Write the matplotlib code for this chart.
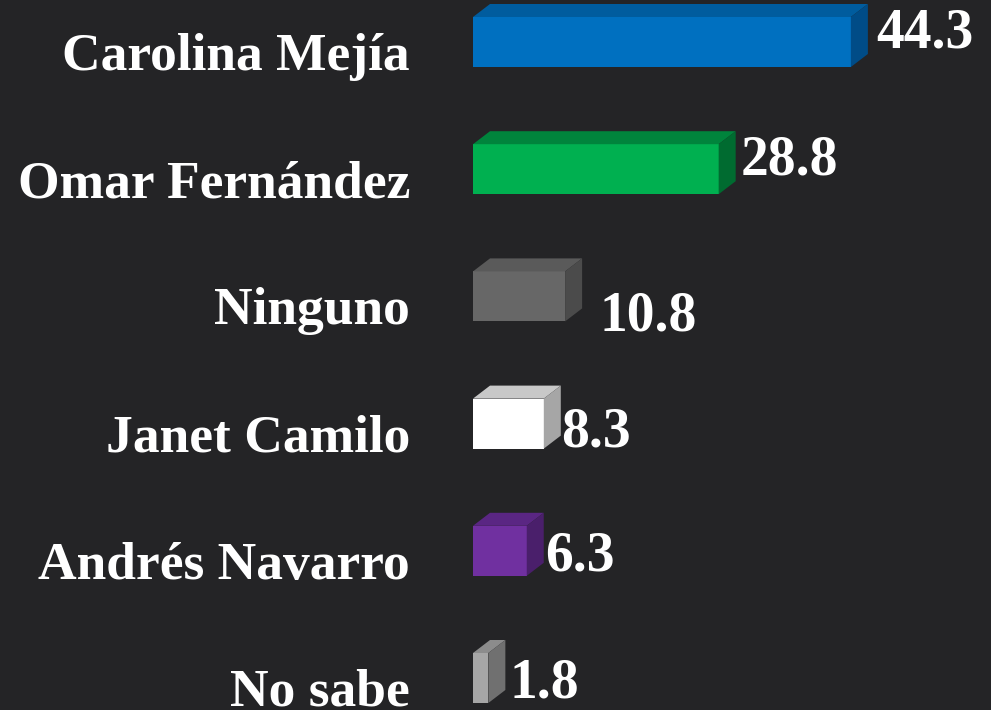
import matplotlib.pyplot as plt
from matplotlib.patches import Polygon

# datos
candidatos = ['Carolina Mejía', 'Omar Fernández', 'Ninguno', 'Janet Camilo',
              'Andrés Navarro', 'No sabe']
valores = [44.3, 28.8, 10.8, 8.3, 6.3, 1.8]

# colores: frente, techo, lado
frente = ['#0070C0', '#00B050', '#676767', '#FFFFFF', '#7030A0', '#A6A6A6']
techo = ['#005C9E', '#00843C', '#5A5A5A', '#C8C8C8', '#5A2683', '#8C8C8C']
lado = ['#004C87', '#006B30', '#4B4B4B', '#A6A6A6', '#4A1F6B', '#707070']

# desplazamiento de cada etiqueta de valor (pixeles: x, y hacia abajo)
desp_etiq = [(8, 5), (5, 5), (17, 34), (0, 23), (1, 20), (4, 19)]

fondo = '#242426'
fig = plt.figure(figsize=(9.91, 7.10), dpi=100, facecolor=fondo)
# eje x=0 en el pixel 473, 8.53 px por unidad
ax = fig.add_axes([473 / 991, 0, 518 / 991, 1])
ax.set_facecolor(fondo)
ax.set_xlim(0, 518 / 8.53)
paso = 127.2
ax.set_ylim((710 - 42) / paso, -42 / paso)
ax.axis('off')

alto = 50 / paso
pdx = 17 / 8.53      # profundidad en x
pdy = 13 / paso      # profundidad en y

for i, (v, cf, ct, cl) in enumerate(zip(valores, frente, techo, lado)):
    ax.barh(i, v, height=alto, color=cf, left=0)
    y0 = i - alto / 2
    y1 = i + alto / 2
    ax.add_patch(Polygon([(0, y0), (v, y0), (v + pdx, y0 - pdy), (pdx, y0 - pdy)],
                         closed=True, color=ct, lw=0))
    ax.add_patch(Polygon([(v, y0), (v + pdx, y0 - pdy), (v + pdx, y1 - pdy), (v, y1)],
                         closed=True, color=cl, lw=0))

    # nombre
    ax.annotate(candidatos[i], xy=(0, i), xytext=(-63, -28),
                textcoords='offset pixels', ha='right', va='baseline',
                fontsize=38.5, fontweight='bold', family='Liberation Serif',
                color='white', annotation_clip=False)
    # valor
    ox, oy = desp_etiq[i]
    ax.annotate(f'{v:.1f}', xy=(v + pdx, i), xytext=(ox, -oy),
                textcoords='offset pixels', ha='left', va='baseline',
                fontsize=40, fontweight='bold', family='Liberation Serif',
                color='white', annotation_clip=False)

fig.savefig('out.png', dpi=100, facecolor=fondo)
